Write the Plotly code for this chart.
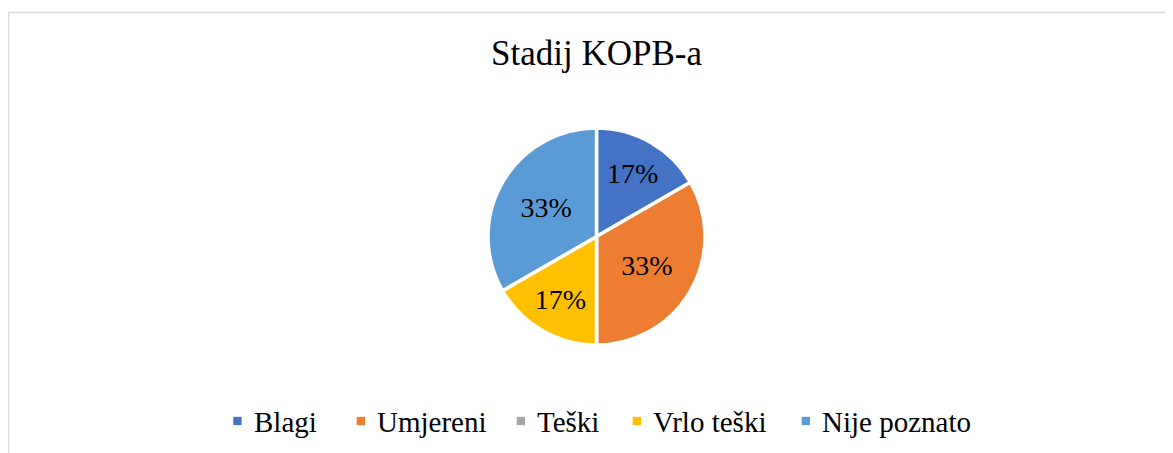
import plotly.graph_objects as go

# ---- data ----
categories = ["Blagi", "Umjereni", "Teški", "Vrlo teški", "Nije poznato"]
counts = [1, 2, 0, 1, 2]
colors = ["#4472C4", "#ED7D31", "#A5A5A5", "#FFC000", "#5B9BD5"]
title_text = "Stadij KOPB-a"

# page is 1173x453; the HTML body has an 8px margin, so the figure is offset
OFF = 8
W, H = 1173 - OFF, 453 - OFF
FONT = "Liberation Serif"


def px(x):
    return (x - OFF) / W


def py(y):
    return 1 - (y - OFF) / H


total = sum(counts)
labels_text = [f"{round(v / total * 100)}%" if v else "" for v in counts]

# pie geometry (page pixels)
cx, cy, r = 596.5, 236.5, 108.5

fig = go.Figure(
    go.Pie(
        labels=categories,
        values=counts,
        text=labels_text,
        textinfo="text",
        textposition="inside",
        insidetextorientation="horizontal",
        textfont=dict(family=FONT, size=28, color="#000000"),
        marker=dict(colors=colors, line=dict(color="#FFFFFF", width=3.5)),
        sort=False,
        direction="clockwise",
        rotation=0,
        showlegend=False,
        hoverinfo="label+percent",
        domain=dict(
            x=[px(cx - r - 40), px(cx + r + 40)],
            y=[py(cy + r), py(cy - r)],
        ),
    )
)

shapes = []
annotations = []

# chart frame (cropped at right/bottom)
shapes.append(dict(
    type="rect", xref="paper", yref="paper",
    x0=px(8.5), x1=1.02, y0=-0.05, y1=py(12.5),
    line=dict(color="#D9D9D9", width=1.5), fillcolor="rgba(0,0,0,0)",
    layer="below",
))

# title
annotations.append(dict(
    text=title_text, xref="paper", yref="paper",
    x=px(cx), y=py(53.5), xanchor="center", yanchor="middle",
    showarrow=False, font=dict(family=FONT, size=35, color="#000000"),
))

# legend (manual)
legend_marker_left = [233.3, 356.7, 516.7, 632.7, 801.7]
legend_y = 421.0
msize = 8.3
for name, col, mx in zip(categories, colors, legend_marker_left):
    shapes.append(dict(
        type="rect", xref="paper", yref="paper",
        x0=px(mx), x1=px(mx + msize),
        y0=py(legend_y + msize / 2), y1=py(legend_y - msize / 2),
        line=dict(width=0), fillcolor=col,
    ))
    annotations.append(dict(
        text=name, xref="paper", yref="paper",
        x=px(mx + 18.5), y=py(legend_y + 0.5),
        xanchor="left", yanchor="middle", showarrow=False,
        font=dict(family=FONT, size=29, color="#000000"),
    ))

fig.update_layout(
    width=W, height=H,
    margin=dict(l=0, r=0, t=0, b=0),
    paper_bgcolor="#FFFFFF", plot_bgcolor="#FFFFFF",
    shapes=shapes, annotations=annotations,
    font=dict(family=FONT),
)

fig.write_html("out.html", config={"displayModeBar": False})
